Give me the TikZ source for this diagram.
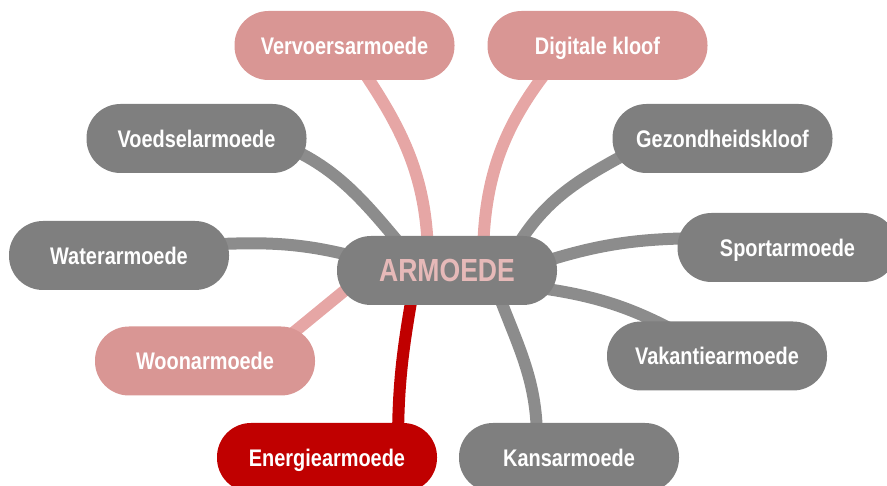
\documentclass[tikz,border=0pt]{standalone}
\usepackage{fontspec}
\newfontfamily\mapfont{Liberation Sans}[FakeStretch=0.83]
\usepackage{xcolor}
\usetikzlibrary{calc,backgrounds}

\definecolor{nodegray}{RGB}{127,127,127}
\definecolor{linegray}{RGB}{140,140,140}
\definecolor{rosenode}{RGB}{217,150,148}
\definecolor{roseline}{RGB}{230,166,165}
\definecolor{rosetext}{RGB}{230,185,184}
\definecolor{darkred}{RGB}{192,0,0}

\begin{document}
\begin{tikzpicture}[
  x=1pt, y=1pt,
  font=\mapfont\bfseries\fontsize{24}{24}\selectfont,
  pill/.style={rounded corners=34pt, minimum width=220pt, minimum height=69pt,
               inner sep=0pt, text height=17.2pt, text depth=0pt,
               text=white, fill=nodegray},
  rose/.style={pill, fill=rosenode},
  hot/.style={pill, fill=darkred},
  core/.style={pill, text=rosetext, text height=22.9pt,
               font=\mapfont\bfseries\fontsize{32}{32}\selectfont},
  link/.style={line width=12pt, draw=linegray},
  roselink/.style={link, draw=roseline},
  hotlink/.style={link, draw=darkred},
]
\clip (0,0) rectangle (887,-486);
\node[core] (arm) at (447,-270.5) {ARMOEDE};
\node[rose] (verv) at (344.5,-45.5) {Vervoersarmoede};
\node[rose] (digi) at (597.5,-45.5) {Digitale kloof};
\node[pill] (voed) at (196.5,-138.5) {Voedselarmoede};
\node[pill] (gez) at (722.5,-138.5) {Gezondheidskloof};
\node[pill] (water) at (119,-255.5) {Waterarmoede};
\node[pill] (sport) at (787.5,-247.5) {Sportarmoede};
\node[rose] (woon) at (205,-361) {Woonarmoede};
\node[pill] (vak) at (717,-356) {Vakantiearmoede};
\node[hot] (energie) at (327,-457.5) {Energiearmoede};
\node[pill] (kans) at (569,-457.5) {Kansarmoede};
\begin{scope}[on background layer]
  \draw[roselink] ($(arm.center)+(-19,8.5)$) to[out=90, in=-55] ($(verv.center)+(7.5,-9.5)$);
  \draw[roselink] ($(arm.center)+(36,8.5)$) to[out=90, in=230] ($(digi.center)+(-37.5,-9.5)$);
  \draw[link] ($(arm.center)+(-42,20.5)$) to[out=130, in=-20] ($(voed.center)+(73.5,-1.5)$);
  \draw[link] ($(arm.center)+(-87,12.5)$) to[out=165, in=3] ($(water.center)+(81,10.5)$);
  \draw[roselink] ($(arm.center)+(-87,-7.5)$) -- ($(woon.center)+(55,1)$);
  \draw[hotlink] ($(arm.center)+(-33,-14.5)$) to[out=-100, in=90] ($(energie.center)+(71,12.5)$);
  \draw[link] ($(arm.center)+(48,-14.5)$) to[out=-70, in=90] ($(kans.center)+(-32,17.5)$);
  \draw[link] ($(arm.center)+(93,-17.5)$) to[out=-8, in=150] ($(vak.center)+(-17,11)$);
  \draw[link] ($(arm.center)+(93,7.5)$) to[out=18, in=180] ($(sport.center)+(-67.5,9.5)$);
  \draw[link] ($(arm.center)+(68,20.5)$) to[out=60, in=210] ($(gez.center)+(-62.5,3.5)$);
\end{scope}
\end{tikzpicture}
\end{document}
